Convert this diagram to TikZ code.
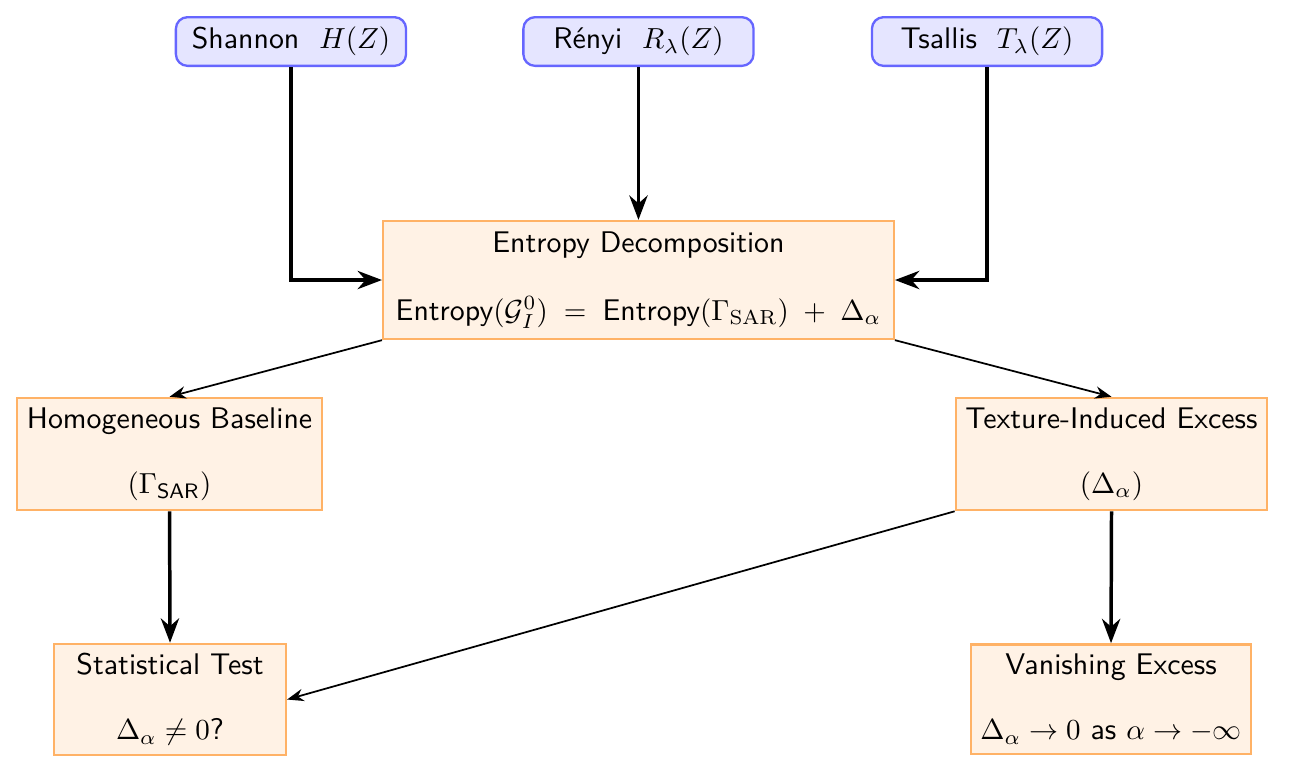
\documentclass[tikz,border=0pt]{standalone}
\usepackage{amsmath}
\usetikzlibrary{arrows.meta,positioning}
\usepackage{xcolor}
\renewcommand{\familydefault}{\sfdefault}

\begin{document}
\begin{tikzpicture}[font=\fontsize{10.3}{12.4}\selectfont,
	entropybox/.style={draw=blue!60,fill=blue!10,thick,rounded corners=4pt,minimum width=2.79cm,minimum height=0.59cm},
	stagebox/.style={draw=orange!60,fill=orange!10,thick,align=center,minimum width=2.81cm},
	flow/.style={-Stealth,very thick},
	thinflow/.style={-Stealth,semithick}]
	\useasboundingbox (0,0) rectangle (15.77,-9.261);
	
	% Entropien oben
	\node[entropybox] (shannon) at (3.527,-0.503) {Shannon\ \ $H(Z)$};
	\node[entropybox] (renyi) at (7.739,-0.503) {R\'enyi\ \ $R_\lambda(Z)$};
	\node[entropybox] (tsallis) at (11.964,-0.503) {Tsallis\ \ $T_\lambda(Z)$};
	
	% Zerlegung
	\node[stagebox,minimum width=6.19cm,minimum height=1.43cm] (decomp) at (7.739,-3.394) {Entropy Decomposition\\[11pt]
		$\text{Entropy}(\mathcal{G}_I^0)\;=\;\text{Entropy}(\Gamma_{\mathrm{SAR}})\;+\;\Delta_\alpha$};
	
	% Anteile
	\node[stagebox] (baseline) at (2.055,-5.503) {Homogeneous Baseline\\[10pt]$(\Gamma_{\text{SAR}})$};
	\node[stagebox] (excess) at (13.473,-5.503) {Texture-Induced Excess\\[10pt]$(\Delta_\alpha)$};
	
	% Folgerungen
	\node[stagebox] (test) at (2.061,-8.479) {Statistical Test\\[10pt]$\Delta_\alpha\neq 0$?};
	\node[stagebox] (vanish) at (13.467,-8.473) {Vanishing Excess\\[10pt]$\Delta_\alpha\to 0$ as $\alpha\to-\infty$};
	
	% Pfeile
	\draw[flow] (shannon.south) |- (decomp.west);
	\draw[flow] (renyi.south) -- (decomp.north);
	\draw[flow] (tsallis.south) |- (decomp.east);
	\draw[thinflow] (decomp.south west) -- (baseline.north);
	\draw[thinflow] (decomp.south east) -- (excess.north);
	\draw[flow] (baseline.south) -- (test.north);
	\draw[flow] (excess.south) -- (vanish.north);
	\draw[thinflow] (excess.south west) -- (test.east);
\end{tikzpicture}
\end{document}
